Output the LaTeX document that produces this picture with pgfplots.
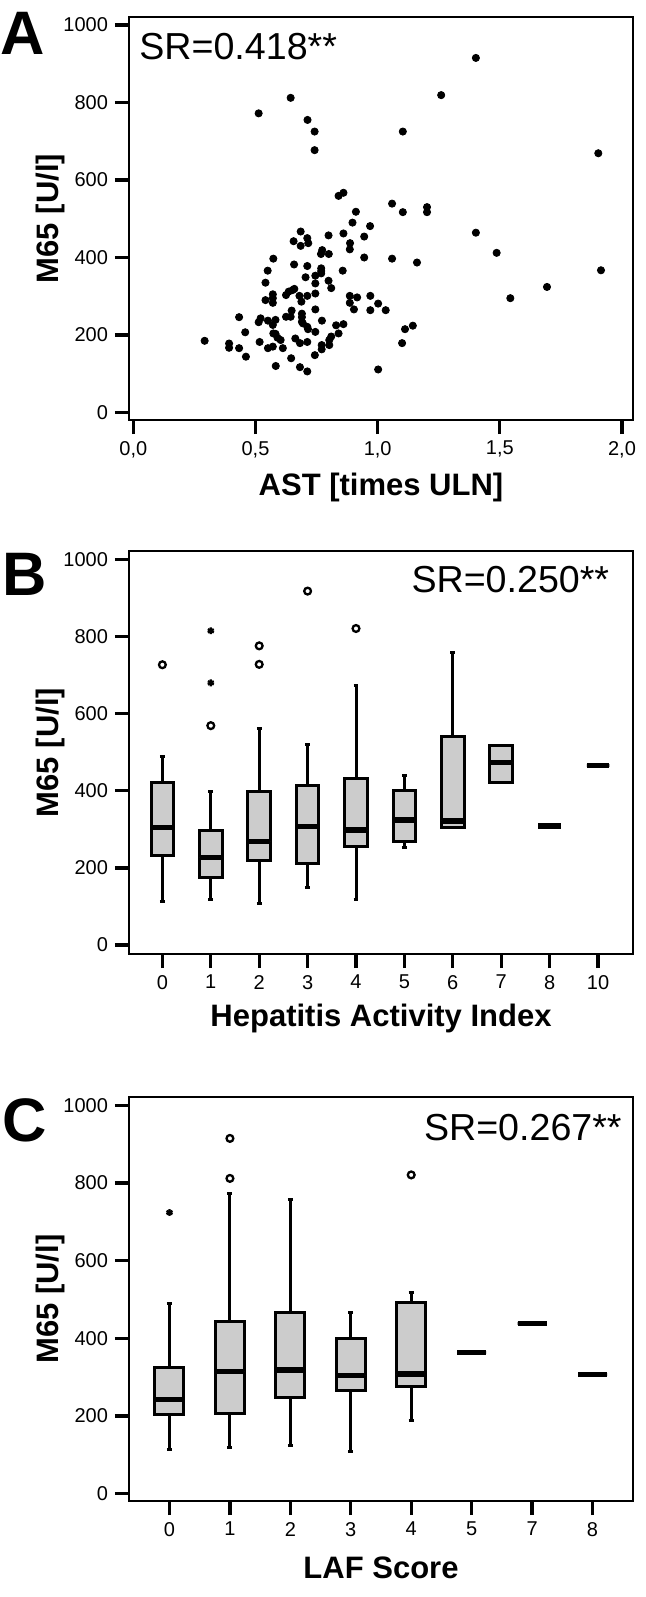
\documentclass[border=0pt]{standalone}
\usepackage{fontspec}
\setmainfont{Liberation Sans}
\usepackage{pgfplots}
\pgfplotsset{compat=1.18}
\usepgfplotslibrary{statistics}
\definecolor{boxgray}{RGB}{204,204,204}

% 1 px of the reference = 0.5pt
\pgfplotsset{
  spss/.style={
    scale only axis, width=252pt, anchor=north west,
    axis line style={line width=1.4pt},
    tick pos=left, tick align=outside,
    major tick length=7pt,
    every tick/.style={line width=1.6pt, black},
    tick label style={font=\fontsize{10pt}{12pt}\selectfont},
    /pgf/number format/assume math mode=true,
    /pgf/number format/1000 sep={},
    ytick={0,200,...,1000},
    clip=false,
  },
  bxstyle/.style={
    boxplot/draw direction=y,
    boxplot/every box/.style={draw=black, fill=boxgray, line width=1.5pt},
    boxplot/every whisker/.style={draw=black, line width=1.5pt},
    boxplot/every median/.style={draw=black, line width=2.7pt},
  },
  box/.style={draw=black, fill=boxgray, line width=1.5pt},
  outl/.style={only marks, mark=o, mark size=1.7pt, line width=1.15pt, black},
  star/.style={only marks, mark=asterisk, mark size=1.7pt, line width=1.15pt, black},
}
\tikzset{
  panel/.style={font={\fontsize{30.7pt}{32pt}\selectfont\bfseries}, anchor=base west, inner sep=0pt},
  albl/.style={font={\fontsize{15.5pt}{17pt}\selectfont\bfseries}, anchor=base, inner sep=0pt},
  sr/.style={font={\fontsize{18.8pt}{21pt}\selectfont}, inner sep=0pt},
}

\begin{document}
\begin{tikzpicture}
\useasboundingbox (0,0) rectangle (323pt,-798.5pt);

% ---------- A ----------
\begin{axis}[spss, at={(64.5pt,-8.5pt)}, height=201.5pt,
  xmin=-0.0176, xmax=2.045, ymin=-19.4, ymax=1020.6,
  xtick={0,0.5,1,1.5,2}, xticklabels={{0,0},{0,5},{1,0},{1,5},{2,0}}]
\addplot[only marks, mark=*, mark size=1.8pt, black] coordinates {
(0.513,772) (0.644,812) (0.713,755) (0.742,725) (0.742,677)
(0.840,559) (0.860,567) (0.911,518) (0.897,490)
(1.402,915) (1.260,819) (1.103,725) (1.903,669)
(1.059,539) (1.103,517) (1.202,530) (1.202,517) (0.969,481)
(0.945,454) (1.402,464) (1.487,412) (0.945,400) (1.059,397)
(1.161,387) (1.914,367) (1.693,324) (1.543,295)
(0.970,301) (1.002,281) (0.970,264) (1.033,264)
(1.144,224) (1.112,215) (1.100,179) (1.002,111)
(0.292,185) (0.392,178) (0.392,167) (0.433,246) (0.433,166)
(0.458,207) (0.461,144) (0.513,233) (0.521,243) (0.517,182)
(0.541,335) (0.550,366) (0.573,397) (0.541,290)
(0.571,305) (0.571,295) (0.571,283) (0.551,237) (0.571,226)
(0.582,239) (0.573,204) (0.582,203) (0.590,193) (0.603,187)
(0.551,166) (0.571,170) (0.612,166) (0.583,120) (0.646,140)
(0.663,191) (0.682,179) (0.682,117) (0.712,106) (0.712,182)
(0.745,208) (0.743,148) (0.771,174) (0.771,163) (0.802,174)
(0.802,187) (0.810,196) (0.830,225) (0.840,204) (0.860,228)
(0.625,303) (0.636,312) (0.652,316) (0.659,319)
(0.625,247) (0.644,247) (0.648,263) (0.680,301) (0.688,286)
(0.712,301) (0.690,255) (0.690,246) (0.690,234) (0.694,230)
(0.712,221) (0.715,215) (0.745,266) (0.745,307) (0.772,237)
(0.705,349) (0.712,378) (0.658,382) (0.745,333) (0.745,353)
(0.769,365) (0.769,372) (0.769,359) (0.799,340) (0.810,321)
(0.857,366) (0.768,409) (0.773,419) (0.800,409) (0.799,457)
(0.860,462) (0.887,437) (0.886,421)
(0.656,442) (0.685,430) (0.685,467) (0.712,450) (0.716,437)
(0.886,301) (0.886,283) (0.916,297) (0.903,266)
};
\end{axis}

% ---------- B ----------
\begin{axis}[spss, bxstyle, at={(64.5pt,-275.5pt)}, height=201.5pt,
  xmin=-0.69, xmax=9.723, ymin=-23.3, ymax=1022,
  xtick={0,...,9}, xticklabels={0,1,2,3,4,5,6,7,8,10},
  boxplot/box extend=0.465, boxplot/whisker extend=0.1]
\addplot[box, boxplot prepared={draw position=0, median=305, lower quartile=232, upper quartile=422, lower whisker=112, upper whisker=490}] coordinates {};
\addplot[box, boxplot prepared={draw position=1, median=227, lower quartile=176, upper quartile=297, lower whisker=119, upper whisker=399}] coordinates {};
\addplot[box, boxplot prepared={draw position=2, median=269, lower quartile=220, upper quartile=399, lower whisker=108, upper whisker=561}] coordinates {};
\addplot[box, boxplot prepared={draw position=3, median=307, lower quartile=211, upper quartile=414, lower whisker=148, upper whisker=520}] coordinates {};
\addplot[box, boxplot prepared={draw position=4, median=298, lower quartile=255, upper quartile=431, lower whisker=119, upper whisker=674}] coordinates {};
\addplot[box, boxplot prepared={draw position=5, median=324, lower quartile=268, upper quartile=401, lower whisker=253, upper whisker=440}] coordinates {};
\addplot[box, boxplot prepared={draw position=6, median=322, lower quartile=306, upper quartile=541, lower whisker=306, upper whisker=759}] coordinates {};
\addplot[box, boxplot prepared={draw position=7, median=474, lower quartile=421, upper quartile=518, lower whisker=421, upper whisker=518}] coordinates {};
\addplot[box, boxplot prepared={draw position=8, median=309, lower quartile=309, upper quartile=309, lower whisker=309, upper whisker=309}] coordinates {};
\addplot[box, boxplot prepared={draw position=9, median=465, lower quartile=465, upper quartile=465, lower whisker=465, upper whisker=465}] coordinates {};
\addplot[outl] coordinates {(0,727) (1,569) (2,776) (2,728) (3,918) (4,821)};
\addplot[star] coordinates {(1,815) (1,680)};
\end{axis}

% ---------- C ----------
\begin{axis}[spss, bxstyle, at={(64.5pt,-548.5pt)}, height=202pt,
  xmin=-0.67, xmax=7.67, ymin=-18.8, ymax=1021.6,
  xtick={0,...,7}, xticklabels={0,1,2,3,4,5,7,8},
  boxplot/box extend=0.48, boxplot/whisker extend=0.083]
\addplot[box, boxplot prepared={draw position=0, median=243, lower quartile=205, upper quartile=326, lower whisker=114, upper whisker=489}] coordinates {};
\addplot[box, boxplot prepared={draw position=1, median=314, lower quartile=207, upper quartile=443, lower whisker=118, upper whisker=772}] coordinates {};
\addplot[box, boxplot prepared={draw position=2, median=319, lower quartile=247, upper quartile=466, lower whisker=124, upper whisker=757}] coordinates {};
\addplot[box, boxplot prepared={draw position=3, median=305, lower quartile=266, upper quartile=401, lower whisker=108, upper whisker=466}] coordinates {};
\addplot[box, boxplot prepared={draw position=4, median=308, lower quartile=276, upper quartile=493, lower whisker=189, upper whisker=519}] coordinates {};
\addplot[box, boxplot prepared={draw position=5, median=363, lower quartile=363, upper quartile=363, lower whisker=363, upper whisker=363}] coordinates {};
\addplot[box, boxplot prepared={draw position=6, median=438, lower quartile=438, upper quartile=438, lower whisker=438, upper whisker=438}] coordinates {};
\addplot[box, boxplot prepared={draw position=7, median=307, lower quartile=307, upper quartile=307, lower whisker=307, upper whisker=307}] coordinates {};
\addplot[outl] coordinates {(1,915) (1,812) (4,821)};
\addplot[star] coordinates {(0,724)};
\end{axis}

% panel letters
\node[panel] at (0pt,-27pt) {A};
\node[panel] at (1pt,-297.5pt) {B};
\node[panel] at (1pt,-570.5pt) {C};

% correlation notes
\node[sr, anchor=base west] at (69.5pt,-29.65pt) {SR=0.418**};
\node[sr, anchor=base east] at (304.75pt,-296pt) {SR=0.250**};
\node[sr, anchor=base east] at (311pt,-570pt) {SR=0.267**};

% axis titles
\node[albl, rotate=90] at (29pt,-109.25pt) {M65 [U/l]};
\node[albl, rotate=90] at (29pt,-376.25pt) {M65 [U/l]};
\node[albl, rotate=90] at (29pt,-649.5pt) {M65 [U/l]};
\node[albl] at (190.5pt,-247.75pt) {AST [times ULN]};
\node[albl] at (190.5pt,-513.35pt) {Hepatitis Activity Index};
\node[albl] at (190.5pt,-789.15pt) {LAF Score};
\end{tikzpicture}
\end{document}
